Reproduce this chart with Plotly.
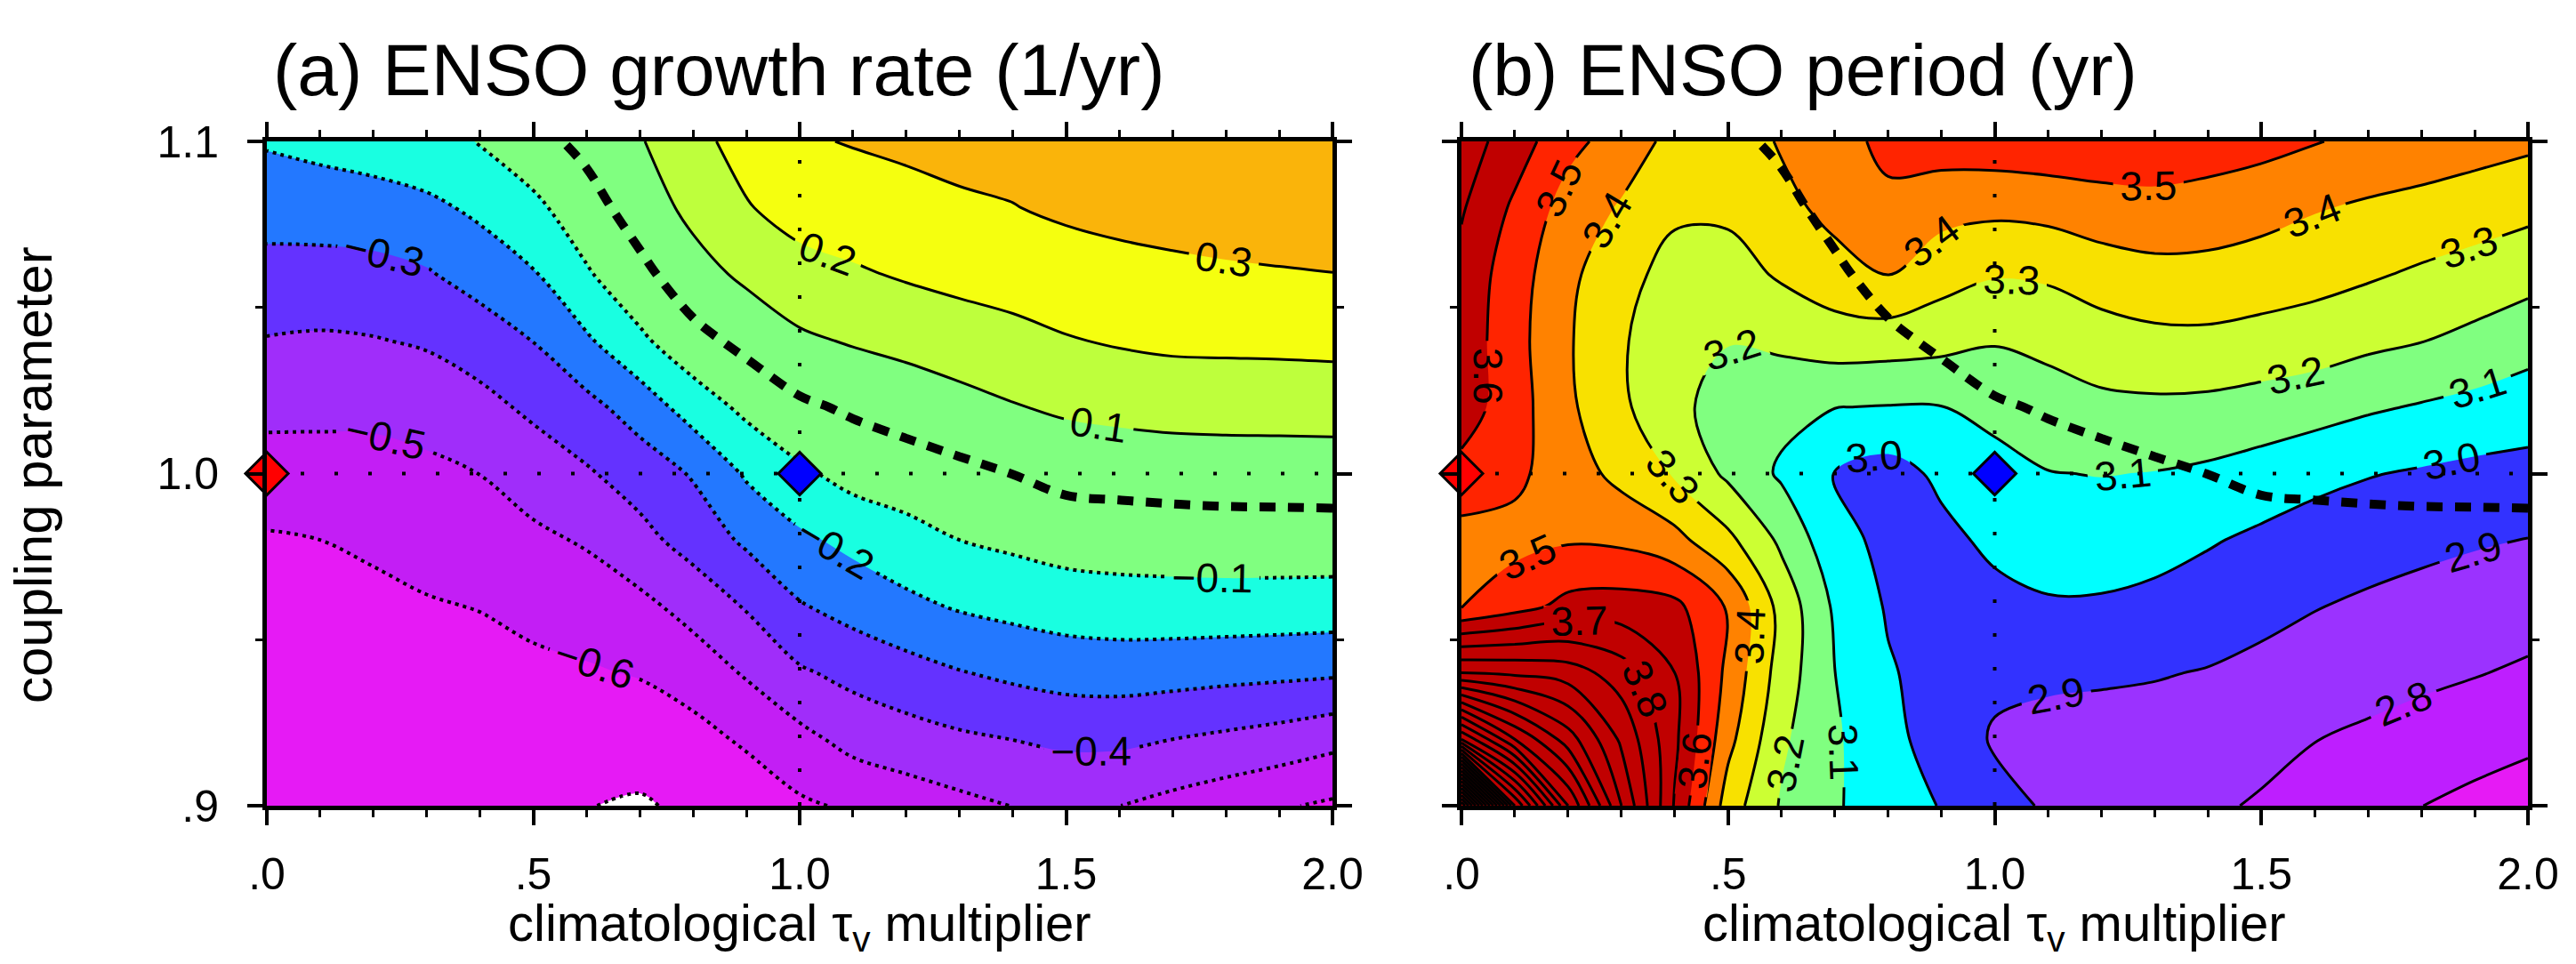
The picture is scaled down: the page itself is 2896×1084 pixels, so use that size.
import plotly.graph_objects as go

# ---------------- data ----------------
TAU_MULT = [0.0, 0.1, 0.2, 0.3, 0.4, 0.5, 0.6, 0.7, 0.8, 0.9, 1.0,
            1.1, 1.2, 1.3, 1.4, 1.5, 1.6, 1.7, 1.8, 1.9, 2.0]
COUPLING = [0.90, 0.92, 0.94, 0.96, 0.98, 1.00, 1.02, 1.04, 1.06, 1.08, 1.10]

# ENSO growth rate (1/yr), one row per coupling value
GROWTH_090 = [-0.67, -0.67, -0.675, -0.68, -0.685, -0.69, -0.698, -0.708, -0.685, -0.665, -0.615,
              -0.586, -0.555, -0.525, -0.498, -0.485, -0.499, -0.53, -0.56, -0.59, -0.615]
GROWTH_092 = [-0.655, -0.655, -0.655, -0.66, -0.66, -0.665, -0.668, -0.665, -0.634, -0.585, -0.529,
              -0.468, -0.44, -0.416, -0.399, -0.381, -0.38, -0.4, -0.419, -0.44, -0.47]
GROWTH_094 = [-0.645, -0.642, -0.64, -0.638, -0.633, -0.623, -0.61, -0.593, -0.554, -0.49, -0.413,
              -0.372, -0.338, -0.305, -0.28, -0.261, -0.256, -0.262, -0.271, -0.278, -0.286]
GROWTH_096 = [-0.63, -0.625, -0.618, -0.607, -0.597, -0.572, -0.554, -0.525, -0.466, -0.392, -0.308,
              -0.264, -0.223, -0.191, -0.171, -0.153, -0.144, -0.141, -0.14, -0.142, -0.145]
GROWTH_098 = [-0.61, -0.6, -0.588, -0.568, -0.546, -0.52, -0.49, -0.431, -0.36, -0.283, -0.219,
              -0.174, -0.137, -0.1, -0.08, -0.06, -0.053, -0.049, -0.046, -0.045, -0.044]
GROWTH_100 = [-0.542, -0.539, -0.534, -0.521, -0.499, -0.455, -0.411, -0.355, -0.291, -0.188, -0.118,
              -0.066, -0.044, -0.023, 0.001, 0.029, 0.035, 0.041, 0.045, 0.046, 0.048]
GROWTH_102 = [-0.474, -0.477, -0.478, -0.461, -0.429, -0.381, -0.329, -0.255, -0.156, -0.076, -0.017,
              0.014, 0.039, 0.067, 0.094, 0.116, 0.129, 0.138, 0.14, 0.141, 0.142]
GROWTH_104 = [-0.405, -0.412, -0.405, -0.389, -0.353, -0.298, -0.214, -0.119, -0.032, 0.028, 0.083,
              0.109, 0.13, 0.153, 0.173, 0.194, 0.209, 0.219, 0.221, 0.223, 0.227]
GROWTH_106 = [-0.333, -0.335, -0.33, -0.309, -0.259, -0.208, -0.111, -0.028, 0.061, 0.12, 0.169,
              0.188, 0.21, 0.227, 0.239, 0.256, 0.269, 0.279, 0.286, 0.292, 0.298]
GROWTH_108 = [-0.261, -0.255, -0.245, -0.223, -0.18, -0.123, -0.042, 0.048, 0.126, 0.194, 0.234,
              0.255, 0.274, 0.288, 0.297, 0.316, 0.329, 0.338, 0.35, 0.36, 0.369]
GROWTH_110 = [-0.19, -0.17, -0.15, -0.125, -0.097, -0.035, 0.028, 0.092, 0.175, 0.232, 0.29,
              0.305, 0.315, 0.325, 0.335, 0.345, 0.355, 0.365, 0.375, 0.382, 0.39]
GROWTH = [GROWTH_090, GROWTH_092, GROWTH_094, GROWTH_096, GROWTH_098, GROWTH_100,
          GROWTH_102, GROWTH_104, GROWTH_106, GROWTH_108, GROWTH_110]

# ENSO period (yr), one row per coupling value
PERIOD_090 = [6.8, 5.3, 4.6, 4.1, 3.69, 3.35, 3.19, 3.11, 3.05, 2.995, 2.93,
              2.89, 2.865, 2.84, 2.815, 2.79, 2.76, 2.73, 2.701, 2.675, 2.65]
PERIOD_092 = [4.9, 4.5, 4.25, 3.98, 3.72, 3.43, 3.217, 3.114, 3.027, 2.96, 2.89,
              2.875, 2.865, 2.86, 2.855, 2.829, 2.802, 2.784, 2.763, 2.741, 2.72]
PERIOD_094 = [4.0, 3.98, 3.95, 3.85, 3.7, 3.475, 3.255, 3.101, 3.01, 2.96, 2.92,
              2.914, 2.912, 2.906, 2.895, 2.876, 2.853, 2.835, 2.82, 2.805, 2.786]
PERIOD_096 = [3.49, 3.56, 3.63, 3.643, 3.625, 3.49, 3.266, 3.085, 2.99, 2.96, 2.971,
              2.99, 2.988, 2.973, 2.95, 2.927, 2.904, 2.884, 2.868, 2.855, 2.842]
PERIOD_098 = [3.46, 3.47, 3.49, 3.48, 3.43, 3.324, 3.18, 3.032, 2.975, 2.975, 3.021,
              3.045, 3.049, 3.036, 3.009, 2.981, 2.958, 2.942, 2.924, 2.909, 2.898]
PERIOD_100 = [3.57, 3.52, 3.45, 3.37, 3.29, 3.18, 3.085, 2.998, 2.96, 3.02, 3.068,
              3.097, 3.103, 3.097, 3.082, 3.058, 3.026, 3.005, 2.99, 2.975, 2.968]
PERIOD_102 = [3.65, 3.543, 3.418, 3.318, 3.224, 3.16, 3.13, 3.102, 3.096, 3.098, 3.126,
              3.157, 3.177, 3.181, 3.176, 3.16, 3.141, 3.113, 3.092, 3.072, 3.049]
PERIOD_104 = [3.66, 3.535, 3.41, 3.313, 3.22, 3.204, 3.221, 3.25, 3.246, 3.232, 3.207,
              3.225, 3.256, 3.275, 3.278, 3.265, 3.25, 3.223, 3.203, 3.174, 3.139]
PERIOD_106 = [3.67, 3.544, 3.424, 3.328, 3.27, 3.259, 3.313, 3.362, 3.405, 3.34, 3.307,
              3.315, 3.349, 3.369, 3.368, 3.352, 3.334, 3.312, 3.286, 3.262, 3.235]
PERIOD_108 = [3.71, 3.582, 3.459, 3.39, 3.315, 3.32, 3.371, 3.43, 3.482, 3.435, 3.423,
              3.433, 3.457, 3.468, 3.457, 3.436, 3.407, 3.386, 3.369, 3.349, 3.326]
PERIOD_110 = [3.75, 3.65, 3.53, 3.455, 3.37, 3.34, 3.41, 3.47, 3.52, 3.55, 3.56,
              3.57, 3.57, 3.567, 3.55, 3.532, 3.505, 3.477, 3.46, 3.44, 3.42]
PERIOD = [PERIOD_090, PERIOD_092, PERIOD_094, PERIOD_096, PERIOD_098, PERIOD_100,
          PERIOD_102, PERIOD_104, PERIOD_106, PERIOD_108, PERIOD_110]

# experiment markers
CASE_TAU = [0.0, 1.0]
CASE_COUPLING = [1.0, 1.0]
CASE_COLORS = ["#ff0000", "#0000ff"]
REF_TAU = 1.0
REF_COUPLING = 1.0

# text
TITLE_A = "(a) ENSO growth rate (1/yr)"
TITLE_B = "(b) ENSO period (yr)"
XLABEL = "climatological \u03c4<sub>v</sub> multiplier"
YLABEL = "coupling parameter"
X_TICKS = [0.0, 0.5, 1.0, 1.5, 2.0]
X_TICK_TEXT = [".0", ".5", "1.0", "1.5", "2.0"]
Y_TICKS = [0.9, 1.0, 1.1]
Y_TICK_TEXT = [".9", "1.0", "1.1"]

# shading colours (one per band: below first level ... above last level)
GROWTH_COLORS = ["#ffffff", "#e61af5", "#c31ef5", "#a02dfa", "#6432ff", "#2378ff",
                 "#19ffe1", "#80ff80", "#80ff80", "#beff3c", "#f5ff0f", "#fab40a"]
PERIOD_COLORS = ["#e61af5", "#be1eff", "#9b32ff", "#3232ff", "#00ffff", "#80ff80",
                 "#ccff33", "#f8e100", "#ff8200", "#ff2400", "#c00000"]

FONT = "Liberation Sans"


def stepped(colors):
    n = len(colors) - 1
    scale = []
    for k, c in enumerate(colors):
        scale.append([max(0.0, (k - 0.5) / n), c])
        scale.append([min(1.0, (k + 0.5) / n), c])
    return scale


fig = go.Figure()

lab_font = dict(family=FONT, size=46, color="black")

# ---------- panel (a) ----------
fig.add_trace(go.Contour(
    x=TAU_MULT, y=COUPLING, z=GROWTH, xaxis="x", yaxis="y",
    autocontour=False,
    contours=dict(start=-0.7, end=0.3, size=0.1, coloring="fill", showlines=False),
    colorscale=stepped(GROWTH_COLORS), showscale=False, line=dict(width=0),
    hoverinfo="skip"))
fig.add_trace(go.Contour(
    x=TAU_MULT, y=COUPLING, z=GROWTH, xaxis="x", yaxis="y",
    autocontour=False,
    contours=dict(start=0.1, end=0.3, size=0.1, coloring="none",
                  showlabels=True, labelfont=lab_font, labelformat=".1f"),
    line=dict(color="black", width=3), showscale=False, hoverinfo="skip"))
fig.add_trace(go.Contour(
    x=TAU_MULT, y=COUPLING, z=GROWTH, xaxis="x", yaxis="y",
    autocontour=False,
    contours=dict(start=-0.7, end=-0.1, size=0.1, coloring="none",
                  showlabels=True, labelfont=lab_font, labelformat=".1f"),
    line=dict(color="black", width=4, dash="4px,5px"), showscale=False, hoverinfo="skip"))
fig.add_trace(go.Contour(
    x=TAU_MULT, y=COUPLING, z=GROWTH, xaxis="x", yaxis="y",
    autocontour=False,
    contours=dict(start=0.0, end=0.0, size=0.1, coloring="none"),
    line=dict(color="black", width=10, dash="18px,14px"), showscale=False, hoverinfo="skip"))

# ---------- panel (b) ----------
fig.add_trace(go.Contour(
    x=TAU_MULT, y=COUPLING, z=PERIOD, xaxis="x2", yaxis="y2",
    autocontour=False,
    contours=dict(start=2.7, end=3.6, size=0.1, coloring="fill", showlines=False),
    colorscale=stepped(PERIOD_COLORS), showscale=False, line=dict(width=0),
    hoverinfo="skip"))
fig.add_trace(go.Contour(
    x=TAU_MULT, y=COUPLING, z=PERIOD, xaxis="x2", yaxis="y2",
    autocontour=False,
    contours=dict(start=2.7, end=7.0, size=0.1, coloring="none",
                  showlabels=True, labelfont=lab_font, labelformat=".1f"),
    line=dict(color="black", width=3), showscale=False, hoverinfo="skip"))
fig.add_trace(go.Contour(
    x=TAU_MULT, y=COUPLING, z=GROWTH, xaxis="x2", yaxis="y2",
    autocontour=False,
    contours=dict(start=0.0, end=0.0, size=0.1, coloring="none"),
    line=dict(color="black", width=10, dash="18px,14px"), showscale=False, hoverinfo="skip"))

# reference dotted lines and markers in both panels
for xa, ya in (("x", "y"), ("x2", "y2")):
    fig.add_trace(go.Scatter(
        x=[min(TAU_MULT), max(TAU_MULT)], y=[REF_COUPLING, REF_COUPLING],
        xaxis=xa, yaxis=ya, mode="lines",
        line=dict(color="black", width=4, dash="4px,34px"), hoverinfo="skip"))
    fig.add_trace(go.Scatter(
        x=[REF_TAU, REF_TAU], y=[min(COUPLING), max(COUPLING)],
        xaxis=xa, yaxis=ya, mode="lines",
        line=dict(color="black", width=4, dash="4px,34px"), hoverinfo="skip"))
    fig.add_trace(go.Scatter(
        x=CASE_TAU, y=CASE_COUPLING, xaxis=xa, yaxis=ya, mode="markers",
        marker=dict(symbol="diamond", size=37, color=CASE_COLORS,
                    line=dict(color="black", width=3)),
        cliponaxis=False, hoverinfo="skip"))

W, H = 2896, 1084
XA = [300 / W, 1498 / W]
XB = [1643 / W, 2842 / W]
YD = [(H - 906) / H, (H - 159) / H]

common_x = dict(
    range=[0, 2], showline=True, linewidth=5, linecolor="black", mirror="ticks",
    ticks="outside", ticklen=17, tickwidth=4, tickcolor="black",
    tickmode="array", tickvals=X_TICKS, ticktext=X_TICK_TEXT,
    tickfont=dict(family=FONT, size=50, color="black"), ticklabelstandoff=12,
    minor=dict(tickmode="linear", tick0=0, dtick=0.1, ticks="outside",
               ticklen=8, tickwidth=3, tickcolor="black"),
    showgrid=False, zeroline=False, automargin=False)
common_y = dict(
    range=[0.9, 1.1], showline=True, linewidth=5, linecolor="black", mirror="ticks",
    ticks="outside", ticklen=17, tickwidth=4, tickcolor="black",
    tickmode="array", tickvals=Y_TICKS, ticktext=Y_TICK_TEXT,
    tickfont=dict(family=FONT, size=50, color="black"), ticklabelstandoff=22,
    minor=dict(tickmode="linear", tick0=0.9, dtick=0.05, ticks="outside",
               ticklen=8, tickwidth=3, tickcolor="black"),
    showgrid=False, zeroline=False, domain=YD, automargin=False)

fig.update_layout(
    width=W, height=H, margin=dict(l=0, r=0, t=0, b=0, pad=0, autoexpand=False),
    paper_bgcolor="white", plot_bgcolor="white", showlegend=False,
    xaxis=dict(common_x, domain=XA, anchor="y"),
    yaxis=dict(common_y, anchor="x"),
    xaxis2=dict(common_x, domain=XB, anchor="y2"),
    yaxis2=dict(common_y, anchor="x2", showticklabels=False),
    annotations=[
        dict(text=TITLE_A, x=305 / W, y=1 - 78 / H, xref="paper", yref="paper",
             xanchor="left", yanchor="middle", showarrow=False,
             font=dict(family=FONT, size=82, color="black")),
        dict(text=TITLE_B, x=1649 / W, y=1 - 78 / H, xref="paper", yref="paper",
             xanchor="left", yanchor="middle", showarrow=False,
             font=dict(family=FONT, size=82, color="black")),
        dict(text=YLABEL, x=37 / W, y=1 - 534 / H, xref="paper", yref="paper",
             xanchor="center", yanchor="middle", showarrow=False, textangle=-90,
             font=dict(family=FONT, size=60, color="black")),
        dict(text=XLABEL, x=899 / W, y=1 - 1042 / H, xref="paper", yref="paper",
             xanchor="center", yanchor="middle", showarrow=False,
             font=dict(family=FONT, size=58, color="black")),
        dict(text=XLABEL, x=2242 / W, y=1 - 1042 / H, xref="paper", yref="paper",
             xanchor="center", yanchor="middle", showarrow=False,
             font=dict(family=FONT, size=58, color="black")),
    ],
)

fig.write_html("out.html", config={"displayModeBar": False},
               post_script="document.body.style.margin='0';document.body.style.overflow='hidden';")
